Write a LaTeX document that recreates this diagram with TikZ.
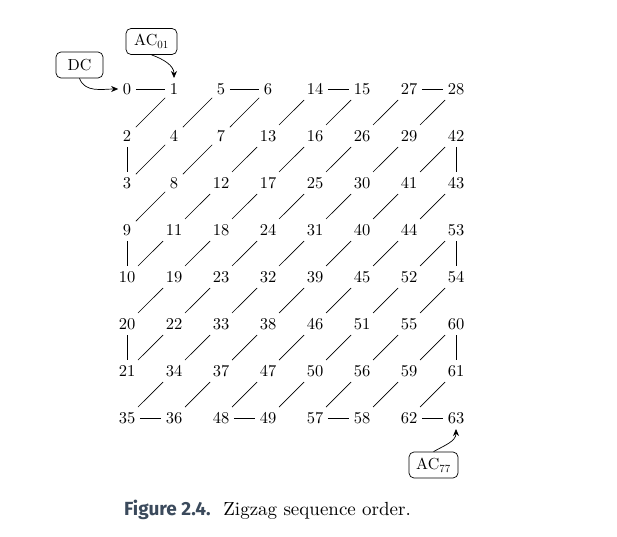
\documentclass[tikz,border=0pt]{standalone}
\usepackage{fontspec}
\newfontfamily\capfont{Fira Sans}
\newfontfamily\lmten{lmroman10-regular}[Extension=.otf]
\definecolor{capcol}{HTML}{3B4A5C}
\usetikzlibrary{arrows.meta}
\tikzset{
  num/.style={font=\lmten\fontsize{16.5}{19}\selectfont, text height=10.6pt, text depth=0pt, inner xsep=4.5pt, inner ysep=5.5pt},
  lbl/.style={draw, rounded corners=5pt, line width=0.7pt, font=\lmten\fontsize{16}{19}\selectfont, minimum height=26pt, inner xsep=6pt},
  link/.style={line width=0.7pt},
  callout/.style={line width=0.7pt, -{Stealth[length=7pt,width=6pt]}}
}
\begin{document}
\begin{tikzpicture}[x=1pt,y=1pt]
\useasboundingbox (0,0) rectangle (617,536);
\foreach \row [count=\r from 0] in {
  {0,1,5,6,14,15,27,28},
  {2,4,7,13,16,26,29,42},
  {3,8,12,17,25,30,41,43},
  {9,11,18,24,31,40,44,53},
  {10,19,23,32,39,45,52,54},
  {20,22,33,38,46,51,55,60},
  {21,34,37,47,50,56,59,61},
  {35,36,48,49,57,58,62,63}} {
  \foreach \v [count=\c from 0] in \row {
    \node[num] (n\v) at ({127+47*\c},{447-47*\r}) {\v};
  }
}
\foreach \i in {0,...,62} {
  \pgfmathtruncatemacro\j{\i+1}
  \draw[link] (n\i) -- (n\j);
}
\node[lbl, minimum width=47pt] (dc) at (79.5,471) {DC};
\node[lbl, minimum width=51pt] (ac01) at (151.5,494.5) {AC$_{01}$};
\node[lbl, minimum width=49pt] (ac77) at (433.5,71) {AC$_{77}$};
\draw[callout] (dc.south) to[out=-70,in=180] (n0.west);
\draw[callout] (ac01.south) to[out=-20,in=90] (n1.north);
\draw[callout] (ac77.north) to[out=30,in=-90] (n63.south);
\node[anchor=base west, inner sep=0pt] (cap) at (124,21)
  {{\capfont\bfseries\color{capcol}\fontsize{19}{22}\selectfont Figure 2.4.}{\lmten\fontsize{19}{22}\selectfont\ \ Zigzag sequence order.}};
\end{tikzpicture}
\end{document}
